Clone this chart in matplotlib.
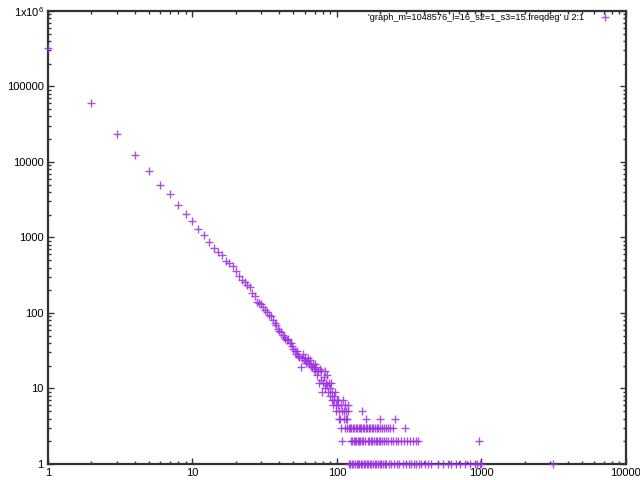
import matplotlib
matplotlib.use('Agg')
import matplotlib.pyplot as plt
from matplotlib.ticker import FixedLocator, LogLocator, NullFormatter

# degree -> number of nodes, low degrees (one point per degree)
deg_main = list(range(1, 103))
cnt_main = [320000, 60000, 23500, 12300, 7700, 4950, 3800, 2700, 2070, 1650,
            1300, 1070, 860, 720, 650, 585, 490, 460, 425, 355,
            310, 275, 260, 235, 220, 186, 170, 138, 135, 130,
            120, 110, 104, 95, 90, 80, 73, 69, 62, 58,
            56, 51, 48, 45, 44, 45, 40, 40, 36, 33,
            31, 29, 31, 27, 26, 19, 25, 29, 24, 25,
            22, 23, 25, 21, 24, 20, 19, 21, 18, 21,
            17, 19, 15, 17, 12, 18, 13, 17, 9, 12,
            14, 17, 10, 12, 11, 15, 9, 12, 8, 10,
            12, 7, 9, 6, 8, 7, 9, 5, 6, 7,
            6, 7]

# sparse high degrees, grouped by their count
deg_c7 = [110]
deg_c6 = [106, 114, 120]
deg_c5 = [104, 108, 112, 116, 119, 148]
deg_c4 = [103, 105, 111, 115, 118, 160, 199, 253]
deg_c3 = [107, 113, 117, 121, 124, 126, 129, 132, 135, 138, 141, 144, 147,
          151, 155, 158, 162, 166, 170, 174, 179, 184, 189, 193, 198, 204,
          210, 217, 224, 233, 243, 294]
deg_c2 = [109, 125, 128, 131, 134, 136, 139, 142, 145, 149, 152, 156, 163,
          167, 171, 175, 180, 185, 190, 195, 200, 206, 212, 218, 226, 235,
          245, 256, 265, 278, 290, 305, 320, 335, 350, 362, 955]
deg_c1 = [122, 123, 127, 130, 133, 137, 140, 143, 146, 150, 153, 157, 161,
          165, 168, 172, 177, 182, 187, 192, 197, 202, 208, 214, 220, 228,
          237, 248, 260, 270, 285, 300, 315, 325, 340, 355, 370, 380, 405,
          425, 450, 500, 540, 585, 620, 670, 710, 770, 830, 900, 930, 970,
          1000, 3150]

x = list(deg_main)
y = list(cnt_main)
for c, degs in [(7, deg_c7), (6, deg_c6), (5, deg_c5), (4, deg_c4),
                (3, deg_c3), (2, deg_c2), (1, deg_c1)]:
    x += degs
    y += [c] * len(degs)

legend_label = "'graph_m=1048576_l=16_s2=1_s3=15.freqdeg' u 2:1"
x_ticks = [1, 10, 100, 1000, 10000]
x_labels = ['1', '10', '100', '1000', '10000']
y_ticks = [1, 10, 100, 1000, 10000, 100000, 1000000]
y_labels = ['1', '10', '100', '1000', '10000', '100000', '1x10$^6$']

plt.rcParams['font.family'] = ['Liberation Sans', 'DejaVu Sans']
plt.rcParams['mathtext.fontset'] = 'custom'
plt.rcParams['mathtext.rm'] = 'Liberation Sans'

fig = plt.figure(figsize=(6.4, 4.8), dpi=100)
ax = fig.add_axes([0.075, 0.0333, 0.903, 0.944])

ax.plot(x, y, linestyle='none', marker='+', markersize=6.3, markeredgewidth=1.0,
        color='#9b30e0', alpha=0.85, label=legend_label, clip_on=False,
        zorder=3)

ax.set_xscale('log')
ax.set_yscale('log')
ax.set_xlim(1, 10000)
ax.set_ylim(1, 1000000)

ax.xaxis.set_major_locator(FixedLocator(x_ticks))
ax.set_xticklabels(x_labels)
ax.yaxis.set_major_locator(FixedLocator(y_ticks))
ax.set_yticklabels(y_labels)
for a in (ax.xaxis, ax.yaxis):
    a.set_minor_locator(LogLocator(base=10, subs=range(2, 10), numticks=20))
    a.set_minor_formatter(NullFormatter())

ax.tick_params(which='both', direction='in', top=True, right=True,
               labelsize=8, color='#333333', pad=3)
ax.tick_params(which='major', length=4, width=1)
ax.tick_params(which='minor', length=2, width=1)
for s in ax.spines.values():
    s.set_linewidth(1.6)
    s.set_color('#333333')

ax.legend(loc='upper right', bbox_to_anchor=(0.956, 0.972),
          bbox_transform=fig.transFigure, frameon=False, markerfirst=False,
          fontsize=6.6, handlelength=1.5, handletextpad=1.5, borderaxespad=0,
          borderpad=0.0)

fig.savefig('out.png', dpi=100)
